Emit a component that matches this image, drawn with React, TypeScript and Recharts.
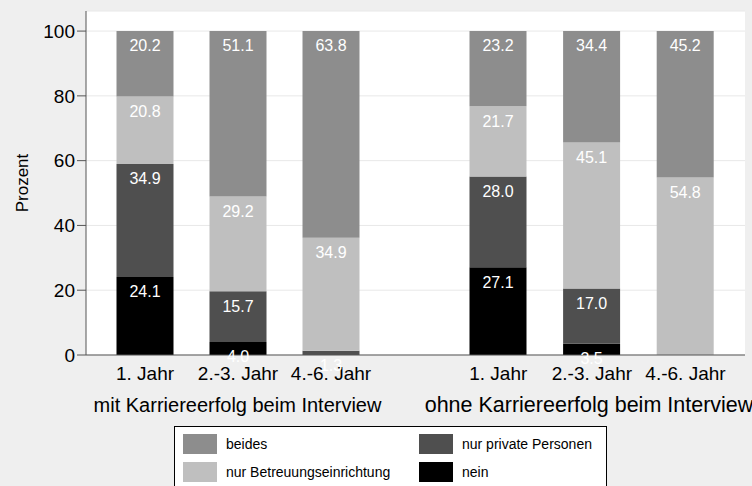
import React from 'react';
import { BarChart, Bar, XAxis, YAxis, CartesianGrid, LabelList, Label } from 'recharts';

// ---- data ----
const years = ['1. Jahr', '2.-3. Jahr', '4.-6. Jahr'];
const groupNames = ['mit Karriereerfolg beim Interview', 'ohne Karriereerfolg beim Interview'];

const mitNein = [24.1, 4.0, 0.0];
const mitPrivat = [34.9, 15.7, 1.3];
const mitBetreuung = [20.8, 29.2, 34.9];
const mitBeides = [20.2, 51.1, 63.8];

const ohneNein = [27.1, 3.5, 0.0];
const ohnePrivat = [28.0, 17.0, 0.0];
const ohneBetreuung = [21.7, 45.1, 54.8];
const ohneBeides = [23.2, 34.4, 45.2];

const yTicks = [0, 20, 40, 60, 80, 100];

// ---- styles ----
const FONT = '"Liberation Sans", Arial, sans-serif';
const COLORS: Record<string, string> = {
  beides: '#8d8d8d',
  'nur Betreuungseinrichtung': '#bfbfbf',
  'nur private Personen': '#4f4f4f',
  nein: '#000000',
};
const W = 752;
const H = 486;
const PLOT_TOP = 11;
const PLOT_BOTTOM = 355;
const SPLIT = 414;
const PLOT_LEFT = 86;
const PLOT_RIGHT = 745;
const X_AXIS_H = 60;
const Y_AXIS_W = 80;
const Y_DOMAIN: [number, number] = [0, 106.2];

function buildRows(nein: number[], privat: number[], betreuung: number[], beides: number[]) {
  return years.map((y, i) => ({
    year: y,
    nein: nein[i],
    privat: privat[i],
    betreuung: betreuung[i],
    beides: beides[i],
  }));
}

const mitRows = buildRows(mitNein, mitPrivat, mitBetreuung, mitBeides);
const ohneRows = buildRows(ohneNein, ohnePrivat, ohneBetreuung, ohneBeides);

const fmt = (v: any) => Number(v).toFixed(1);

const seriesDefs = [
  { key: 'nein', name: 'nein' },
  { key: 'privat', name: 'nur private Personen' },
  { key: 'betreuung', name: 'nur Betreuungseinrichtung' },
  { key: 'beides', name: 'beides' },
];

function GroupChart(props: {
  rows: any[];
  group: string;
  first: boolean;
  padding: { left: number; right: number };
  labelDx: number;
  labelSize: number;
}) {
  const { rows, group, first, padding, labelDx, labelSize } = props;
  const margin = first
    ? { top: PLOT_TOP, right: W - SPLIT, bottom: H - PLOT_BOTTOM - X_AXIS_H, left: PLOT_LEFT - Y_AXIS_W }
    : { top: PLOT_TOP, right: W - PLOT_RIGHT, bottom: H - PLOT_BOTTOM - X_AXIS_H, left: SPLIT };
  return (
    <BarChart width={W} height={H} data={rows} margin={margin} barSize={57}>
      <CartesianGrid vertical={false} stroke="#e8e8e8" fill="#ffffff" />
      <XAxis
        dataKey="year"
        interval={0}
        height={X_AXIS_H}
        padding={padding}
        axisLine={{ stroke: '#555555' }}
        tickLine={false}
        tickMargin={6}
        tick={{ fill: '#000', fontSize: 19, fontFamily: FONT }}
      >
        <Label
          value={group}
          position="insideBottom"
          offset={3}
          dx={labelDx}
          style={{ fill: '#000', fontSize: labelSize, fontFamily: FONT }}
        />
      </XAxis>
      {first ? (
        <YAxis
          width={Y_AXIS_W}
          domain={Y_DOMAIN}
          ticks={yTicks}
          type="number"
          axisLine={{ stroke: '#555555' }}
          tickLine={{ stroke: '#555555' }}
          tickSize={9}
          tickMargin={2}
          tick={{ fill: '#000', fontSize: 19, fontFamily: FONT }}
        >
          <Label
            value="Prozent"
            angle={-90}
            position="insideLeft"
            offset={16}
            style={{ fill: '#000', fontSize: 17, fontFamily: FONT, textAnchor: 'middle' }}
          />
        </YAxis>
      ) : (
        <YAxis hide domain={Y_DOMAIN} ticks={yTicks} type="number" />
      )}
      {seriesDefs.map((s) => (
        <Bar
          key={s.key}
          dataKey={s.key}
          name={s.name}
          stackId="a"
          fill={COLORS[s.name]}
          isAnimationActive={false}
        >
          <LabelList
            dataKey={s.key}
            position="insideTop"
            offset={9}
            formatter={fmt}
            style={{ fill: '#fff', fontSize: 16, fontFamily: FONT }}
          />
        </Bar>
      ))}
    </BarChart>
  );
}

const legendOrder = [
  ['beides', 'nur Betreuungseinrichtung'],
  ['nur private Personen', 'nein'],
];

function LegendBox() {
  return (
    <div
      style={{
        position: 'absolute',
        left: 174,
        top: 426,
        width: 433,
        height: 80,
        boxSizing: 'border-box',
        border: '1px solid #000',
        background: '#fff',
        fontFamily: FONT,
        fontSize: 14,
        color: '#000',
      }}
    >
      {legendOrder.map((col, ci) =>
        col.map((name, ri) => (
          <div
            key={name}
            style={{
              position: 'absolute',
              left: ci === 0 ? 8 : 244,
              top: 7 + ri * 28,
              height: 20,
              display: 'flex',
              alignItems: 'center',
              whiteSpace: 'nowrap',
            }}
          >
            <span style={{ display: 'inline-block', width: 34, height: 20, background: COLORS[name], marginRight: 9 }} />
            <span>{name}</span>
          </div>
        ))
      )}
    </div>
  );
}

export default function App() {
  return (
    <div
      style={{
        position: 'fixed',
        left: 0,
        top: 0,
        width: W,
        height: H,
        background: '#efefef',
        overflow: 'hidden',
      }}
    >
      <div style={{ position: 'absolute', left: 0, top: 0 }}>
        <GroupChart rows={mitRows} group={groupNames[0]} first padding={{ left: 12.5, right: 36.5 }} labelDx={-12.5} labelSize={20} />
      </div>
      <div style={{ position: 'absolute', left: 0, top: 0 }}>
        <GroupChart rows={ohneRows} group={groupNames[1]} first={false} padding={{ left: 37.5, right: 12.7 }} labelDx={9.5} labelSize={21.5} />
      </div>
      <LegendBox />
    </div>
  );
}
